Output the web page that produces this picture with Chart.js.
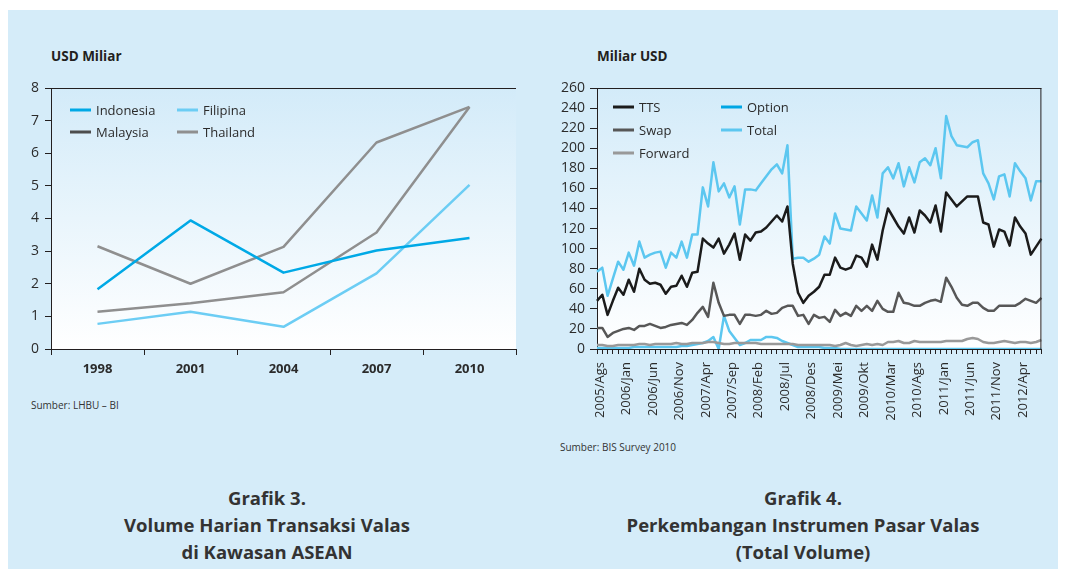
<!DOCTYPE html>
<html>
<head>
<meta charset="utf-8">
<script src="https://cdn.jsdelivr.net/npm/chart.js@4.4.1/dist/chart.umd.min.js"></script>
<style>
  body { margin: 0; width: 1065px; height: 569px; background: #fff; overflow: hidden; position: relative; font-family: "Open Sans", sans-serif; }
  #panel { position: absolute; left: 8px; top: 10px; width: 1050px; height: 559px; background: #d5ecf9; }
  .unit { position: absolute; font-weight: bold; font-size: 13.5px; line-height: 16px; color: #231f20; }
  .src { position: absolute; font-size: 10px; line-height: 14px; color: #333; }
  .cap { position: absolute; width: 400px; text-align: center; font-weight: bold; font-size: 18.5px; line-height: 27px; color: #333; }
  canvas { position: absolute; }
</style>
</head>
<body>
<div id="panel"></div>

<div class="unit" style="left:51px;top:48px">USD Miliar</div>
<div class="unit" style="left:597px;top:48px">Miliar USD</div>
<div class="src" style="left:31px;top:398px">Sumber: LHBU – BI</div>
<div class="src" style="left:560px;top:440px">Sumber: BIS Survey 2010</div>
<div class="cap" style="left:67px;top:484px">Grafik 3.<br>Volume Harian Transaksi Valas<br>di Kawasan ASEAN</div>
<div class="cap" style="left:603px;top:484px">Grafik 4.<br>Perkembangan Instrumen Pasar Valas<br>(Total Volume)</div>

<div style="position:absolute;left:0;top:72px;width:530px;height:310px"><canvas id="asean"></canvas></div>
<div style="position:absolute;left:540px;top:72px;width:525px;height:370px"><canvas id="instrumen"></canvas></div>

<script>
// Grafik 3 - USD miliar per hari
const years = ['1998', '2001', '2004', '2007', '2010'];
const indonesia = [1.83, 3.94, 2.34, 3.02, 3.40];
const filipina = [0.77, 1.14, 0.68, 2.32, 5.03];
const malaysia = [1.14, 1.40, 1.74, 3.57, 7.42];
const thailand = [3.15, 2.00, 3.13, 6.33, 7.42];

// Grafik 4 - miliar USD, bulanan 2005/Ags - 2012/Ags
const months = [
  '2005/Ags', '2005/Sep', '2005/Okt', '2005/Nov', '2005/Des',
  '2006/Jan', '2006/Feb', '2006/Mar', '2006/Apr', '2006/Mei', '2006/Jun', '2006/Jul', '2006/Ags', '2006/Sep', '2006/Okt', '2006/Nov', '2006/Des',
  '2007/Jan', '2007/Feb', '2007/Mar', '2007/Apr', '2007/Mei', '2007/Jun', '2007/Jul', '2007/Ags', '2007/Sep', '2007/Okt', '2007/Nov', '2007/Des',
  '2008/Jan', '2008/Feb', '2008/Mar', '2008/Apr', '2008/Mei', '2008/Jun', '2008/Jul', '2008/Ags', '2008/Sep', '2008/Okt', '2008/Nov', '2008/Des',
  '2009/Jan', '2009/Feb', '2009/Mar', '2009/Apr', '2009/Mei', '2009/Jun', '2009/Jul', '2009/Ags', '2009/Sep', '2009/Okt', '2009/Nov', '2009/Des',
  '2010/Jan', '2010/Feb', '2010/Mar', '2010/Apr', '2010/Mei', '2010/Jun', '2010/Jul', '2010/Ags', '2010/Sep', '2010/Okt', '2010/Nov', '2010/Des',
  '2011/Jan', '2011/Feb', '2011/Mar', '2011/Apr', '2011/Mei', '2011/Jun', '2011/Jul', '2011/Ags', '2011/Sep', '2011/Okt', '2011/Nov', '2011/Des',
  '2012/Jan', '2012/Feb', '2012/Mar', '2012/Apr', '2012/Mei', '2012/Jun', '2012/Jul', '2012/Ags'
];
const shownMonths = ['2005/Ags', '2006/Jan', '2006/Jun', '2006/Nov', '2007/Apr', '2007/Sep', '2008/Feb', '2008/Jul', '2008/Des',
  '2009/Mei', '2009/Okt', '2010/Mar', '2010/Ags', '2011/Jan', '2011/Jun', '2011/Nov', '2012/Apr'];

const tts = [
  48, 54, 34, 48, 61, 54, 69, 57, 80, 69,
  65, 66, 64, 55, 62, 63, 73, 62, 76, 77,
  110, 105, 101, 110, 95, 104, 115, 89, 114, 108,
  116, 117, 121, 127, 133, 127, 142, 85, 56, 46,
  53, 57, 62, 74, 74, 91, 81, 79, 81, 93,
  91, 82, 104, 89, 118, 140, 131, 122, 115, 131,
  116, 138, 133, 126, 143, 117, 156, 149, 142, 147,
  152, 152, 152, 126, 124, 102, 119, 117, 103, 131,
  122, 115, 94, 102, 110
];
const swap = [
  21, 21, 12, 16, 18, 20, 21, 19, 23, 23,
  25, 23, 21, 22, 24, 25, 26, 24, 29, 36,
  42, 32, 66, 46, 33, 34, 34, 25, 34, 34,
  33, 34, 38, 35, 36, 41, 43, 43, 33, 34,
  25, 34, 31, 32, 27, 39, 33, 36, 33, 43,
  38, 43, 38, 48, 40, 37, 37, 56, 46, 45,
  43, 43, 46, 48, 49, 47, 71, 62, 51, 44,
  43, 46, 46, 41, 38, 38, 43, 43, 43, 43,
  46, 50, 48, 46, 51
];
const forward = [
  4, 4, 3, 3, 4, 4, 4, 4, 5, 5,
  4, 5, 5, 5, 5, 6, 5, 5, 6, 6,
  6, 7, 7, 6, 5, 5, 6, 6, 6, 6,
  6, 5, 5, 5, 5, 5, 5, 5, 4, 4,
  4, 4, 4, 4, 4, 3, 4, 6, 4, 3,
  4, 5, 4, 5, 4, 7, 7, 8, 6, 6,
  8, 7, 7, 7, 7, 7, 8, 8, 8, 8,
  10, 11, 10, 7, 6, 6, 7, 8, 7, 6,
  7, 7, 6, 7, 9
];
const option = [
  1, 1, 1, 1, 1, 1, 1, 2, 2, 2,
  2, 2, 2, 2, 2, 2, 3, 3, 4, 5,
  6, 8, 12, 0, 33, 18, 11, 4, 6, 9,
  9, 9, 12, 12, 11, 8, 6, 4, 2, 2,
  2, 2, 2, 1, 1, 1, 0, 0, 0, 0,
  0, 0, 0, 0, 0, 0, 0, 0, 0, 0,
  0, 0, 0, 0, 0, 0, 0, 0, 0, 0,
  0, 0, 0, 0, 0, 0, 0, 0, 0, 0,
  0, 0, 0, 0, 0
];
const total = [
  77, 81, 53, 70, 87, 79, 96, 83, 107, 91,
  94, 96, 97, 81, 96, 91, 107, 91, 114, 114,
  161, 142, 186, 157, 165, 151, 162, 124, 159, 159,
  158, 165, 172, 179, 184, 175, 203, 90, 91, 91,
  87, 90, 94, 112, 105, 135, 120, 119, 118, 142,
  135, 128, 153, 131, 175, 181, 170, 185, 162, 181,
  166, 186, 190, 183, 200, 170, 232, 212, 203, 202,
  201, 206, 208, 175, 165, 149, 172, 174, 152, 185,
  177, 170, 148, 167, 167
];

const AXIS = '#231f20';
const TEXT = '#2b2b2b';
Chart.defaults.font.family = '"Open Sans", sans-serif';
Chart.defaults.color = TEXT;

// plot area: light blue to white, plus frame on top (and right)
const plotFrame = {
  id: 'plotFrame',
  beforeDraw(chart, args, opts) {
    const { ctx, chartArea: a } = chart;
    const g = ctx.createLinearGradient(0, a.top, 0, a.bottom);
    g.addColorStop(0, '#d3ebf9');
    g.addColorStop(1, '#ffffff');
    ctx.save();
    ctx.fillStyle = g;
    ctx.fillRect(a.left, a.top, a.right - a.left, a.bottom - a.top);
    ctx.restore();
  },
  afterDraw(chart, args, opts) {
    const { ctx, chartArea: a } = chart;
    ctx.save();
    ctx.strokeStyle = AXIS;
    ctx.lineWidth = 1;
    ctx.beginPath();
    ctx.moveTo(a.left, a.top + 0.5);
    ctx.lineTo(a.right, a.top + 0.5);
    if (opts.right) {
      ctx.moveTo(a.right - 0.5, a.top);
      ctx.lineTo(a.right - 0.5, a.bottom);
    }
    ctx.stroke();
    ctx.restore();
  }
};

// two-column legend drawn inside the plot area
const boxLegend = {
  id: 'boxLegend',
  afterDraw(chart, args, opts) {
    const { ctx, chartArea: a } = chart;
    ctx.save();
    ctx.font = '13px "Open Sans", sans-serif';
    ctx.textBaseline = 'middle';
    opts.items.forEach(it => {
      const ds = chart.data.datasets[it.ds];
      const x = a.left + it.dx, y = a.top + it.dy;
      ctx.strokeStyle = ds.legendColor || ds.borderColor;
      ctx.lineWidth = 3;
      ctx.beginPath();
      ctx.moveTo(x, y);
      ctx.lineTo(x + 21, y);
      ctx.stroke();
      ctx.fillStyle = TEXT;
      ctx.fillText(ds.label, x + 26, y + 1);
    });
    ctx.restore();
  }
};

const line = (label, data, color, extra) => Object.assign({
  label, data, borderColor: color, borderWidth: 2.5, pointRadius: 0,
  tension: 0, fill: false, borderJoinStyle: 'round'
}, extra || {});

new Chart(document.getElementById('asean'), {
  type: 'line',
  data: {
    labels: years,
    datasets: [
      line('Indonesia', indonesia, '#00a9e6'),
      line('Filipina', filipina, '#6ccdf4'),
      line('Malaysia', malaysia, '#8f8f8f', { legendColor: '#4d4d4d' }),
      line('Thailand', thailand, '#8f8f8f')
    ]
  },
  options: {
    responsive: true,
    maintainAspectRatio: false,
    animation: false,
    layout: { padding: { top: 16, right: 14, left: 0, bottom: 0 } },
    plugins: {
      legend: { display: false },
      tooltip: { enabled: false },
      plotFrame: { right: false },
      boxLegend: { items: [
        { ds: 0, dx: 19, dy: 22 }, { ds: 1, dx: 126, dy: 22 },
        { ds: 2, dx: 19, dy: 44 }, { ds: 3, dx: 126, dy: 44 }
      ] }
    },
    scales: {
      x: {
        offset: true,
        grid: { offset: true, drawOnChartArea: false, drawTicks: true, tickLength: 6, color: AXIS },
        border: { display: true, color: AXIS, width: 1 },
        ticks: { font: { size: 13, weight: 'bold' }, color: TEXT, padding: 6, maxRotation: 0 },
        afterFit: s => { s.height = 33; }
      },
      y: {
        min: 0, max: 8,
        grid: { drawOnChartArea: false, drawTicks: true, tickLength: 6, color: AXIS },
        border: { display: true, color: AXIS, width: 1 },
        ticks: { stepSize: 1, font: { size: 14 }, color: TEXT, padding: 6 },
        afterFit: s => { s.width = 51; }
      }
    }
  },
  plugins: [plotFrame, boxLegend]
});

new Chart(document.getElementById('instrumen'), {
  type: 'line',
  data: {
    labels: months,
    datasets: [
      line('TTS', tts, '#1b1b1b'),
      line('Swap', swap, '#575757'),
      line('Forward', forward, '#999999'),
      line('Option', option, '#5cc7f0', { legendColor: '#00a6e4' }),
      line('Total', total, '#5cc7f0')
    ]
  },
  options: {
    responsive: true,
    maintainAspectRatio: false,
    animation: false,
    layout: { padding: { top: 16, right: 21, left: 0, bottom: 0 } },
    plugins: {
      legend: { display: false },
      tooltip: { enabled: false },
      plotFrame: { right: true },
      boxLegend: { items: [
        { ds: 0, dx: 16, dy: 19 }, { ds: 3, dx: 124, dy: 19 },
        { ds: 1, dx: 16, dy: 42 }, { ds: 4, dx: 124, dy: 42 },
        { ds: 2, dx: 16, dy: 65 }
      ] }
    },
    scales: {
      x: {
        offset: false,
        grid: { drawOnChartArea: false, drawTicks: true, tickLength: 5, color: AXIS },
        border: { display: true, color: AXIS, width: 1 },
        ticks: {
          autoSkip: false, minRotation: 90, maxRotation: 90, padding: 8, labelOffset: 3,
          font: { size: 13 }, color: TEXT,
          callback: (v, i) => shownMonths.includes(months[i]) ? months[i] : ''
        },
        afterFit: s => { s.height = 93; }
      },
      y: {
        min: 0, max: 260,
        grid: { drawOnChartArea: false, drawTicks: true, tickLength: 7, color: AXIS },
        border: { display: true, color: AXIS, width: 1 },
        ticks: { stepSize: 20, font: { size: 14 }, color: TEXT, padding: 5 },
        afterFit: s => { s.width = 57; }
      }
    }
  },
  plugins: [plotFrame, boxLegend]
});
</script>
</body>
</html>
